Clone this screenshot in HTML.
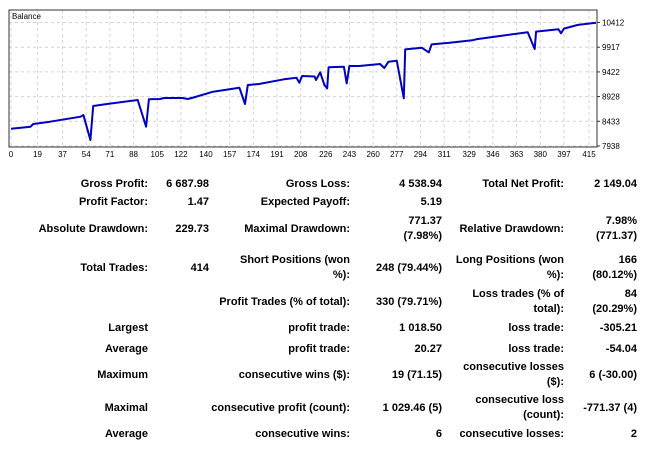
<!DOCTYPE html>
<html><head><meta charset="utf-8">
<style>
body{margin:0;width:650px;height:451px;background:#fff;overflow:hidden;font-family:"Liberation Sans",Tahoma,sans-serif}
#chart{position:absolute;left:0;top:0}
.t{position:absolute;font-weight:bold;font-size:11px;color:#000;white-space:nowrap;text-align:right;line-height:13px}
</style></head><body>
<svg id="chart" width="650" height="165" xmlns="http://www.w3.org/2000/svg"></svg>
<div id="stats"></div>
<script>
const xTicks=[0,19,37,54,71,88,105,122,140,157,174,191,208,226,243,260,277,294,311,329,346,363,380,397,415];
const yTicks=[7938,8433,8928,9422,9917,10412];
const tradeIdx=[0,14,16,28,50,52,57,59,69,91,97,99,107,110,123,127,132,145,164,168,170,178,196,205,207,209,218,219,222,225,227,228,239,241,243,250,265,268,271,277,282,283,295,300,302,315,332,334,351,371,376,377,393,395,397,407,420];
const balance=[8285,8325,8379,8425,8525,8560,8058,8740,8780,8860,8325,8874,8880,8900,8900,8880,8918,9026,9106,8780,9160,9180,9274,9306,9206,9340,9330,9260,9414,9160,9093,9515,9527,9193,9540,9540,9580,9500,9625,9645,8893,9873,9906,9813,9974,10006,10060,10075,10142,10216,9882,10230,10276,10195,10290,10363,10408];
const NS="http://www.w3.org/2000/svg";
const svg=document.getElementById('chart');
const L=9,R=597,T=10,B=147;
const xS=i=>11+i*(589-11)/415;
const yS=v=>146-(v-7938)*(146-22.5)/(10412-7938);
function mk(tag,attrs){const e=document.createElementNS(NS,tag);for(const k in attrs)e.setAttribute(k,attrs[k]);svg.appendChild(e);return e;}
xTicks.forEach(t=>{
  const g=mk('line',{x1:xS(t),x2:xS(t),y1:T,y2:B,stroke:'#d4d4d4','stroke-dasharray':'3,3'});
  
  
  const tx=mk('text',{x:xS(t),y:157,'font-size':'8','text-anchor':'middle','font-family':'Liberation Sans, sans-serif',fill:'#000'});
  tx.textContent=t;
  
  
});
yTicks.forEach(t=>{
  const g=mk('line',{x1:L,x2:R,y1:yS(t),y2:yS(t),stroke:'#d4d4d4','stroke-dasharray':'3,3'});
  
  
  mk('line',{x1:R,x2:R+3,y1:yS(t),y2:yS(t),stroke:'#333'});
  const tx=mk('text',{x:602,y:yS(t)+3,'font-size':'8','font-family':'Liberation Sans, sans-serif',fill:'#000'});
  tx.textContent=t;
  
  
});
const fr=mk('rect',{x:L,y:T,width:R-L,height:B-T,fill:'none',stroke:'#333','stroke-width':'1'});


const ttl=mk('text',{x:12,y:19,'font-size':'8','font-family':'Liberation Sans, sans-serif',fill:'#000'});
ttl.textContent='Balance';


const pts=tradeIdx.map((t,i)=>xS(t).toFixed(1)+','+yS(balance[i]).toFixed(1)).join(' ');
const pl=mk('polyline',{points:pts,fill:'none',stroke:'#0000c0','stroke-width':'2','stroke-linejoin':'round'});



const rows=[
 [184,['Gross Profit:','6 687.98','Gross Loss:','4 538.94','Total Net Profit:','2 149.04']],
 [202,['Profit Factor:','1.47','Expected Payoff:','5.19','','']],
 [229,['Absolute Drawdown:','229.73','Maximal Drawdown:','771.37\n(7.98%)','Relative Drawdown:','7.98%\n(771.37)']],
 [268,['Total Trades:','414','Short Positions (won\n%):','248 (79.44%)','Long Positions (won\n%):','166\n(80.12%)']],
 [302,['','','Profit Trades (% of total):','330 (79.71%)','Loss trades (% of\ntotal):','84\n(20.29%)']],
 [328,['Largest','','profit trade:','1 018.50','loss trade:','-305.21']],
 [349,['Average','','profit trade:','20.27','loss trade:','-54.04']],
 [375,['Maximum','','consecutive wins ($):','19 (71.15)','consecutive losses\n($):','6 (-30.00)']],
 [408,['Maximal','','consecutive profit (count):','1 029.46 (5)','consecutive loss\n(count):','-771.37 (4)']],
 [434,['Average','','consecutive wins:','6','consecutive losses:','2']]
];
const rights=[148,209,350,442,564,637];
const st=document.getElementById('stats');
rows.forEach(([y,cells])=>{
  cells.forEach((c,j)=>{
    if(!c)return;
    const lines=c.split('\n');
    const d=document.createElement('div');
    d.className='t';
    d.innerHTML=lines.join('<br>');
    d.style.right=(650-rights[j])+'px';
    if(lines.length>1){d.style.lineHeight='15px';d.style.top=(y-15)+'px';}
    else d.style.top=(y-6)+'px';
    
    
    st.appendChild(d);
  });
});
</script>
</body></html>
